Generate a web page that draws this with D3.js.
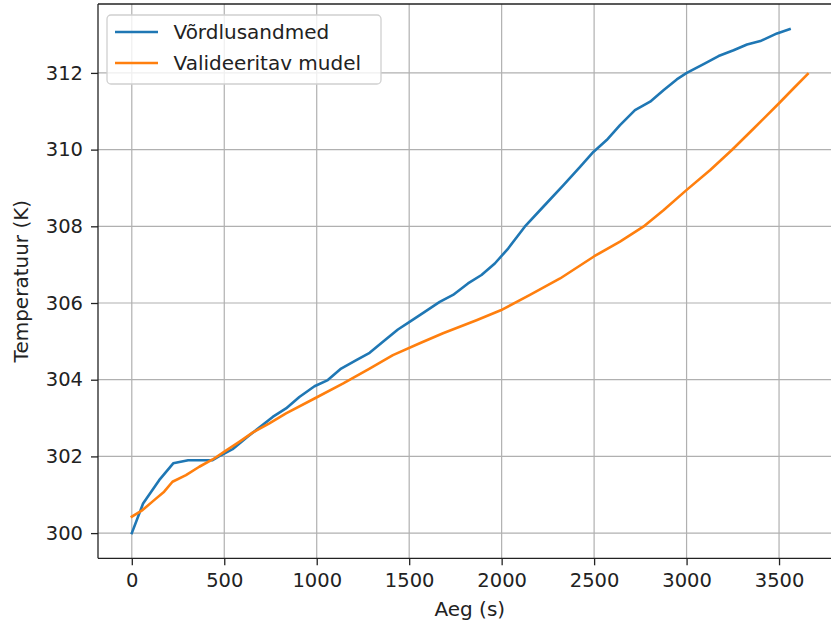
<!DOCTYPE html>
<html>
<head>
<meta charset="utf-8">
<script src="https://cdn.jsdelivr.net/npm/d3@7"></script>
<style>
  html, body { margin: 0; padding: 0; background: #fff; }
  svg { display: block; font-family: "DejaVu Sans", sans-serif; }
</style>
</head>
<body>
<svg id="chart" width="831" height="625"></svg>
<script>
// Data
const seriesNames = ["Võrdlusandmed", "Valideeritav mudel"];
const seriesColors = ["#1f77b4", "#ff7f0e"];

const refTime = [0, 61, 148, 224, 305, 437, 482, 545, 626, 762, 834, 906, 988, 1060, 1132, 1214, 1286, 1358, 1439, 1500, 1584, 1665, 1737, 1818, 1891, 1963, 2035, 2125, 2225, 2333, 2424, 2496, 2568, 2640, 2721, 2803, 2875, 2947, 3001, 3092, 3173, 3254, 3327, 3399, 3489, 3557];
const refTemp = [300.0, 300.77, 301.38, 301.82, 301.9, 301.9, 302.03, 302.19, 302.51, 303.03, 303.25, 303.55, 303.83, 303.99, 304.29, 304.51, 304.70, 304.99, 305.31, 305.5, 305.77, 306.03, 306.21, 306.51, 306.73, 307.03, 307.42, 307.99, 308.51, 309.07, 309.55, 309.94, 310.25, 310.64, 311.03, 311.25, 311.55, 311.83, 312.00, 312.23, 312.44, 312.59, 312.74, 312.83, 313.03, 313.14];

const modelTime = [0, 58, 121, 175, 220, 293, 365, 437, 509, 581, 653, 744, 834, 988, 1141, 1286, 1412, 1557, 1683, 1864, 1995, 2153, 2316, 2501, 2640, 2766, 2875, 2996, 3128, 3245, 3363, 3500, 3579, 3655];
const modelTemp = [300.43, 300.60, 300.86, 301.08, 301.34, 301.51, 301.73, 301.92, 302.15, 302.38, 302.62, 302.86, 303.12, 303.51, 303.90, 304.29, 304.64, 304.95, 305.21, 305.55, 305.81, 306.21, 306.64, 307.22, 307.60, 307.99, 308.42, 308.93, 309.47, 309.99, 310.55, 311.21, 311.60, 311.97];

const xTicks = [0, 500, 1000, 1500, 2000, 2500, 3000, 3500];
const yTicks = [300, 302, 304, 306, 308, 310, 312];
const xLabel = "Aeg (s)";
const yLabel = "Temperatuur (K)";

(function () {
const series = [
  { name: seriesNames[0], color: seriesColors[0], pts: refTime.map((t, i) => [t, refTemp[i]]) },
  { name: seriesNames[1], color: seriesColors[1], pts: modelTime.map((t, i) => [t, modelTemp[i]]) }
];

const svg = d3.select("#chart");
const pL = 98, pR = 841.5, pT = 4, pB = 558.3;

// matplotlib-like 5% margins
const allX = refTime.concat(modelTime), allY = refTemp.concat(modelTemp);
const [x0, x1] = d3.extent(allX), [y0, y1] = d3.extent(allY);
const mx = (x1 - x0) * 0.05, my = (y1 - y0) * 0.05;
const x = d3.scaleLinear().domain([x0 - mx, x1 + mx]).range([pL, pR]);
const y = d3.scaleLinear().domain([y0 - my, y1 + my]).range([pB, pT]);

const clipId = "plotclip";
svg.append("clipPath").attr("id", clipId).append("rect")
  .attr("x", pL).attr("y", pT).attr("width", pR - pL).attr("height", pB - pT);

// grid
const grid = svg.append("g").attr("stroke", "#b0b0b0").attr("stroke-width", 1.2);
xTicks.forEach(t => grid.append("line").attr("x1", x(t)).attr("x2", x(t)).attr("y1", pT).attr("y2", pB));
yTicks.forEach(t => grid.append("line").attr("x1", pL).attr("x2", pR).attr("y1", y(t)).attr("y2", y(t)));

// lines
const line = d3.line().x(d => x(d[0])).y(d => y(d[1]));
const lg = svg.append("g").attr("clip-path", `url(#${clipId})`);
series.forEach(s => {
  lg.append("path").datum(s.pts).attr("d", line)
    .attr("fill", "none").attr("stroke", s.color).attr("stroke-width", 2.6)
    .attr("stroke-linejoin", "round").attr("stroke-linecap", "square");
});

// axes
const xAxis = d3.axisBottom(x).tickValues(xTicks).tickSize(7).tickPadding(8).tickFormat(d3.format("d"));
const yAxis = d3.axisLeft(y).tickValues(yTicks).tickSize(7).tickPadding(8).tickFormat(d3.format("d"));
const gx = svg.append("g").attr("transform", `translate(0,${pB})`).call(xAxis);
const gy = svg.append("g").attr("transform", `translate(${pL},0)`).call(yAxis);
[gx, gy].forEach(g => {
  g.select(".domain").remove();
  g.selectAll(".tick line").attr("stroke", "#222").attr("stroke-width", 1.3);
  g.selectAll(".tick text").attr("fill", "#222").attr("font-size", 19.5)
    .attr("font-family", "DejaVu Sans");
});

// spines
svg.append("line").attr("x1", pL).attr("x2", pL).attr("y1", pT).attr("y2", pB).attr("stroke", "#222").attr("stroke-width", 1.3);
svg.append("line").attr("x1", pL).attr("x2", pR).attr("y1", pB).attr("y2", pB).attr("stroke", "#222").attr("stroke-width", 1.3);
svg.append("line").attr("x1", pL).attr("x2", pR).attr("y1", pT).attr("y2", pT).attr("stroke", "#222").attr("stroke-width", 1.3);

// axis labels
svg.append("text").attr("x", (pL + pR) / 2).attr("y", 616).attr("text-anchor", "middle")
  .attr("font-size", 20).attr("fill", "#222").text(xLabel);
svg.append("text").attr("transform", `translate(27.5,${(pT + pB) / 2}) rotate(-90)`)
  .attr("text-anchor", "middle").attr("font-size", 20).attr("fill", "#222").text(yLabel);

// legend
const leg = svg.append("g");
leg.append("rect").attr("x", 107).attr("y", 15).attr("width", 274).attr("height", 69)
  .attr("rx", 4).attr("fill", "#fff").attr("fill-opacity", 0.8).attr("stroke", "#d0d0d0").attr("stroke-width", 1.3);
series.forEach((s, i) => {
  const yy = 32 + i * 31;
  leg.append("line").attr("x1", 115).attr("x2", 158).attr("y1", yy).attr("y2", yy)
    .attr("stroke", s.color).attr("stroke-width", 2.6);
  leg.append("text").attr("x", 173.5).attr("y", yy + 7.3).attr("font-size", 20).attr("fill", "#222").text(s.name);
});
})();
</script>
</body>
</html>
